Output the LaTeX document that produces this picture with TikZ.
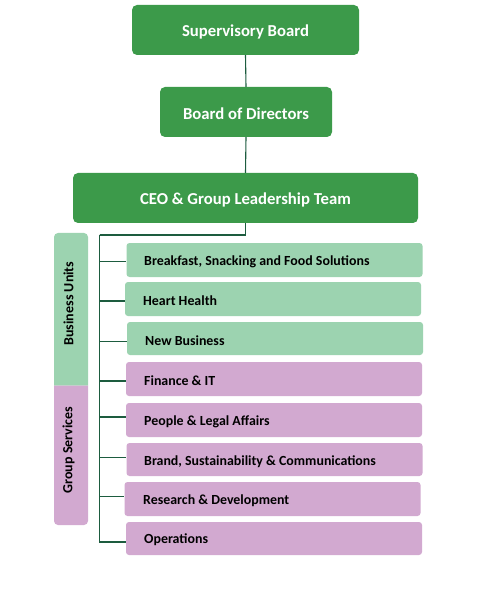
\documentclass[tikz,border=0pt]{standalone}
\usepackage{fontspec}
\setmainfont{Carlito}
\definecolor{dkgreen}{HTML}{3C9A4A}
\definecolor{ltgreen}{HTML}{9CD3B0}
\definecolor{ltpink}{HTML}{D2A9D0}
\definecolor{linegreen}{HTML}{1D5C3F}
\begin{document}
\begin{tikzpicture}[x=1pt,y=-1pt,
  topbox/.style={rectangle, rounded corners=5pt, fill=dkgreen, inner sep=0pt},
  toplabel/.style={text=white, font=\fontsize{16.7}{19}\selectfont\bfseries, inner sep=0pt},
  subbox/.style={rectangle, rounded corners=3pt, inner sep=0pt, minimum height=34pt, minimum width=296pt},
  gbox/.style={subbox, fill=ltgreen},
  pbox/.style={subbox, fill=ltpink},
  sublabel/.style={anchor=west, font=\fontsize{13.9}{16}\selectfont\bfseries, inner sep=0pt, text=black},
  barlabel/.style={rotate=90, font=\fontsize{14}{16}\selectfont\bfseries, inner sep=0pt, text=black},
  conn/.style={draw=linegreen, line width=1.1pt}
]
\useasboundingbox (0,0) rectangle (489,601);
\fill[white] (0,0) rectangle (489,601);

% top boxes
\node[topbox, minimum width=227pt, minimum height=50pt] (sup) at (245.5,30) {};
\node[topbox, minimum width=172pt, minimum height=50pt] (bod) at (246,112) {};
\node[topbox, minimum width=345pt, minimum height=50pt] (ceo) at (245.5,198) {};
\node[toplabel] (supt) at (245.5,31.5) {Supervisory Board};
\node[toplabel] (bodt) at (246,113.5) {Board of Directors};
\node[toplabel] (ceot) at (245.5,199.5) {CEO \& Group Leadership Team};

% side bars
\fill[ltgreen] (54,385.5) [rounded corners=4pt] -- (54,233) -- (88,233) [sharp corners] -- (88,385.5) -- cycle;
\fill[ltpink] (88,385.5) [rounded corners=4pt] -- (88,525) -- (54,525) [sharp corners] -- (54,385.5) -- cycle;
\node[barlabel] (bu) at (68.5,303.5) {Business Units};
\node[barlabel] (gs) at (68.5,450) {Group Services};

% sub boxes
\node[gbox] (b1) at (274.5,260) {};
\node[gbox] (b2) at (273,299) {};
\node[gbox, minimum height=33pt] (b3) at (275,338.5) {};
\node[pbox] (b4) at (274,379) {};
\node[pbox] (b5) at (274,420) {};
\node[pbox, minimum height=33pt] (b6) at (274.5,459.5) {};
\node[pbox] (b7) at (272.5,499) {};
\node[pbox, minimum height=33pt] (b8) at (274,538.5) {};

\node[sublabel] (t1) at (144,261.5) {Breakfast, Snacking and Food Solutions};
\node[sublabel] (t2) at (143,300.5) {Heart Health};
\node[sublabel] (t3) at (145,340.5) {New Business};
\node[sublabel] (t4) at (144,380.5) {Finance \& IT};
\node[sublabel] (t5) at (144,421.5) {People \& Legal Affairs};
\node[sublabel] (t6) at (144,461.5) {Brand, Sustainability \& Communications};
\node[sublabel] (t7) at (143,500.5) {Research \& Development};
\node[sublabel] (t8) at (144,539.5) {Operations};

% connectors
\coordinate (tk) at (99.5,235);
\draw[conn] (sup.south) -- (bod.north);
\draw[conn] (bod.south) -- (ceo.north);
\draw[conn] (ceo.south) |- (tk);
\draw[conn] (tk) |- ([yshift=-1.5pt]b1.west);
\draw[conn] (tk) |- ([yshift=-2pt]b2.west);
\draw[conn] (tk) |- ([yshift=-3pt]b3.west);
\draw[conn] (tk) |- ([yshift=-2pt]b4.west);
\draw[conn] (tk) |- ([yshift=3pt]b5.west);
\draw[conn] (tk) |- ([yshift=2pt]b6.west);
\draw[conn] (tk) |- ([yshift=2.5pt]b7.west);
\draw[conn] (tk) |- ([yshift=-3.5pt]b8.west);
\end{tikzpicture}
\end{document}
